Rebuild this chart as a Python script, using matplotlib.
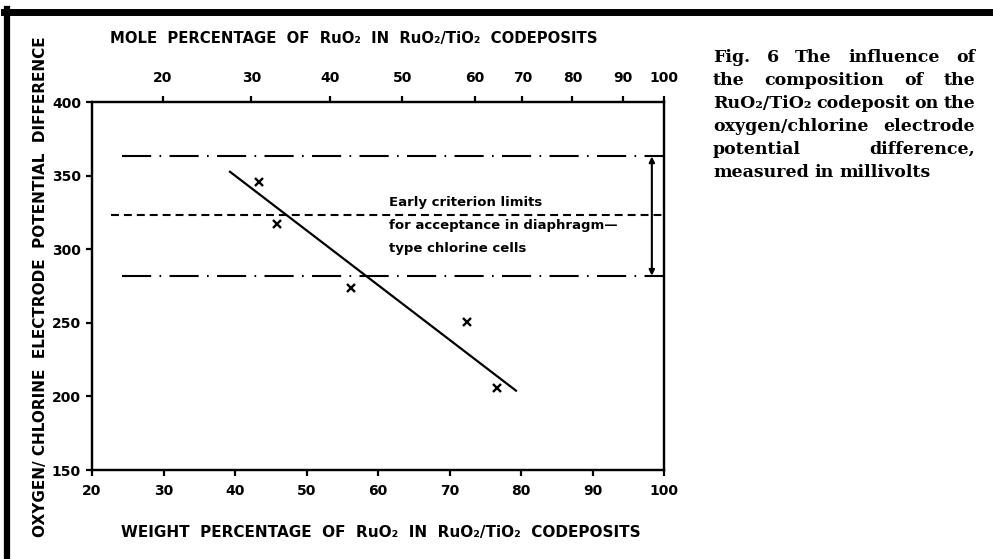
import matplotlib.pyplot as plt
from matplotlib.lines import Line2D

# measured points (weight % RuO2, potential difference mV)
weight_pct = [43.3, 45.9, 56.2, 72.4, 76.7]
potential_mv = [345.4, 317.1, 273.4, 250.5, 205.9]

# drawn trend line end points
fit_x = [39.3, 79.3]
fit_y = [352.6, 203.9]

# criterion limits (mV)
upper_limit = 363
mid_limit = 323
lower_limit = 282

weight_ticks = [20, 30, 40, 50, 60, 70, 80, 90, 100]
mv_ticks = [150, 200, 250, 300, 350, 400]
mole_ticks = [20, 30, 40, 50, 60, 70, 80, 90, 100]
mole_tick_pos = [29.9, 42.3, 53.3, 63.4, 73.5, 80.2, 87.2, 94.3, 100]

caption_lines = ['Fig. 6  The influence of',
                 'the composition of the',
                 'RuO\u2082/TiO\u2082 codeposit on the',
                 'oxygen/chlorine electrode',
                 'potential difference,',
                 'measured in millivolts']

W, H = 993, 559
fig = plt.figure(figsize=(W / 100, H / 100), dpi=100)
ax = fig.add_axes([92 / W, 1 - 470 / H, 572 / W, 368 / H])

lab = dict(fontsize=10, fontweight='bold', family='DejaVu Sans')
title = dict(fontsize=11, fontweight='bold', family='DejaVu Sans')

ax.set_xlim(20, 100)
ax.set_ylim(150, 400)
ax.set_xticks(weight_ticks)
ax.set_yticks(mv_ticks)
ax.set_xticklabels([str(t) for t in weight_ticks], **lab)
ax.set_yticklabels([str(t) for t in mv_ticks], **lab)
ax.tick_params(direction='out', length=4, width=1.6)
ax.tick_params(axis='x', pad=6)
ax.tick_params(axis='y', pad=4)
for s in ax.spines.values():
    s.set_linewidth(1.6)

ax2 = ax.twiny()
ax2.set_xlim(20, 100)
ax2.set_xticks(mole_tick_pos)
ax2.set_xticklabels([str(t) for t in mole_ticks], **lab)
ax2.tick_params(direction='out', length=4, width=1.6, pad=8)
for s in ax2.spines.values():
    s.set_linewidth(1.6)

# limit lines
ax.plot([24.2, 100], [upper_limit] * 2, color='black', lw=1.5,
        linestyle=(0, (14, 4, 0.8, 4)), clip_on=False)
ax.plot([24.2, 100], [lower_limit] * 2, color='black', lw=1.5,
        linestyle=(0, (14, 4, 0.8, 4)), clip_on=False)
ax.plot([22.6, 100], [mid_limit] * 2, color='black', lw=1.5,
        linestyle=(0, (3.8, 2.4)), clip_on=False)
ax.annotate('', xy=(98.3, upper_limit), xytext=(98.3, lower_limit),
            arrowprops=dict(arrowstyle='<|-|>', color='black', lw=1.5,
                            mutation_scale=8, shrinkA=0, shrinkB=0))

ax.plot(fit_x, fit_y, color='black', lw=1.6)
ax.plot(weight_pct, potential_mv, linestyle='none', marker='x',
        color='black', markersize=5.5, markeredgewidth=1.7)

note = ['Early criterion limits', 'for acceptance in diaphragm\u2014',
        'type chlorine cells']
for i, t in enumerate(note):
    ax.text(61.6, 331.4 - i * 15.5, t, fontsize=9.5, fontweight='bold',
            family='DejaVu Sans', va='center', ha='left')

# axis titles
fig.text(354 / W, 1 - 39 / H,
         'MOLE  PERCENTAGE  OF  RuO\u2082  IN  RuO\u2082/TiO\u2082  CODEPOSITS',
         ha='center', va='center', fontsize=10.7, fontweight='bold',
         family='DejaVu Sans')
fig.text(381 / W, 1 - 533 / H,
         'WEIGHT  PERCENTAGE  OF  RuO\u2082  IN  RuO\u2082/TiO\u2082  CODEPOSITS',
         ha='center', va='center', **title)
fig.text(41 / W, 1 - 287 / H,
         'OXYGEN/ CHLORINE  ELECTRODE  POTENTIAL  DIFFERENCE',
         ha='center', va='center', rotation=90, **title)

# page frame of the scan
fig.add_artist(Line2D([4 / W, 1], [1 - 11.5 / H, 1 - 11.5 / H],
                      color='black', lw=5, transform=fig.transFigure))
fig.add_artist(Line2D([7 / W, 7 / W], [0, 1 - 9 / H], color='black',
                      lw=4.5, transform=fig.transFigure))

# justified caption
cap = dict(fontsize=12.5, fontweight='bold', family='DejaVu Serif',
           va='baseline', ha='left')
fig.canvas.draw()
r = fig.canvas.get_renderer()
x0, x1 = 713, 975
for i, line in enumerate(caption_lines):
    words = line.split()
    ts = [fig.text(0, 0, w, **cap) for w in words]
    widths = [t.get_window_extent(r).width for t in ts]
    if i == len(caption_lines) - 1:
        gap = 5.5
    else:
        gap = (x1 - x0 - sum(widths)) / (len(words) - 1)
    x = x0
    yb = 62 + i * 23
    for t, w in zip(ts, widths):
        t.set_position((x / W, 1 - yb / H))
        x += w + gap

fig.savefig('out.png', dpi=100)
